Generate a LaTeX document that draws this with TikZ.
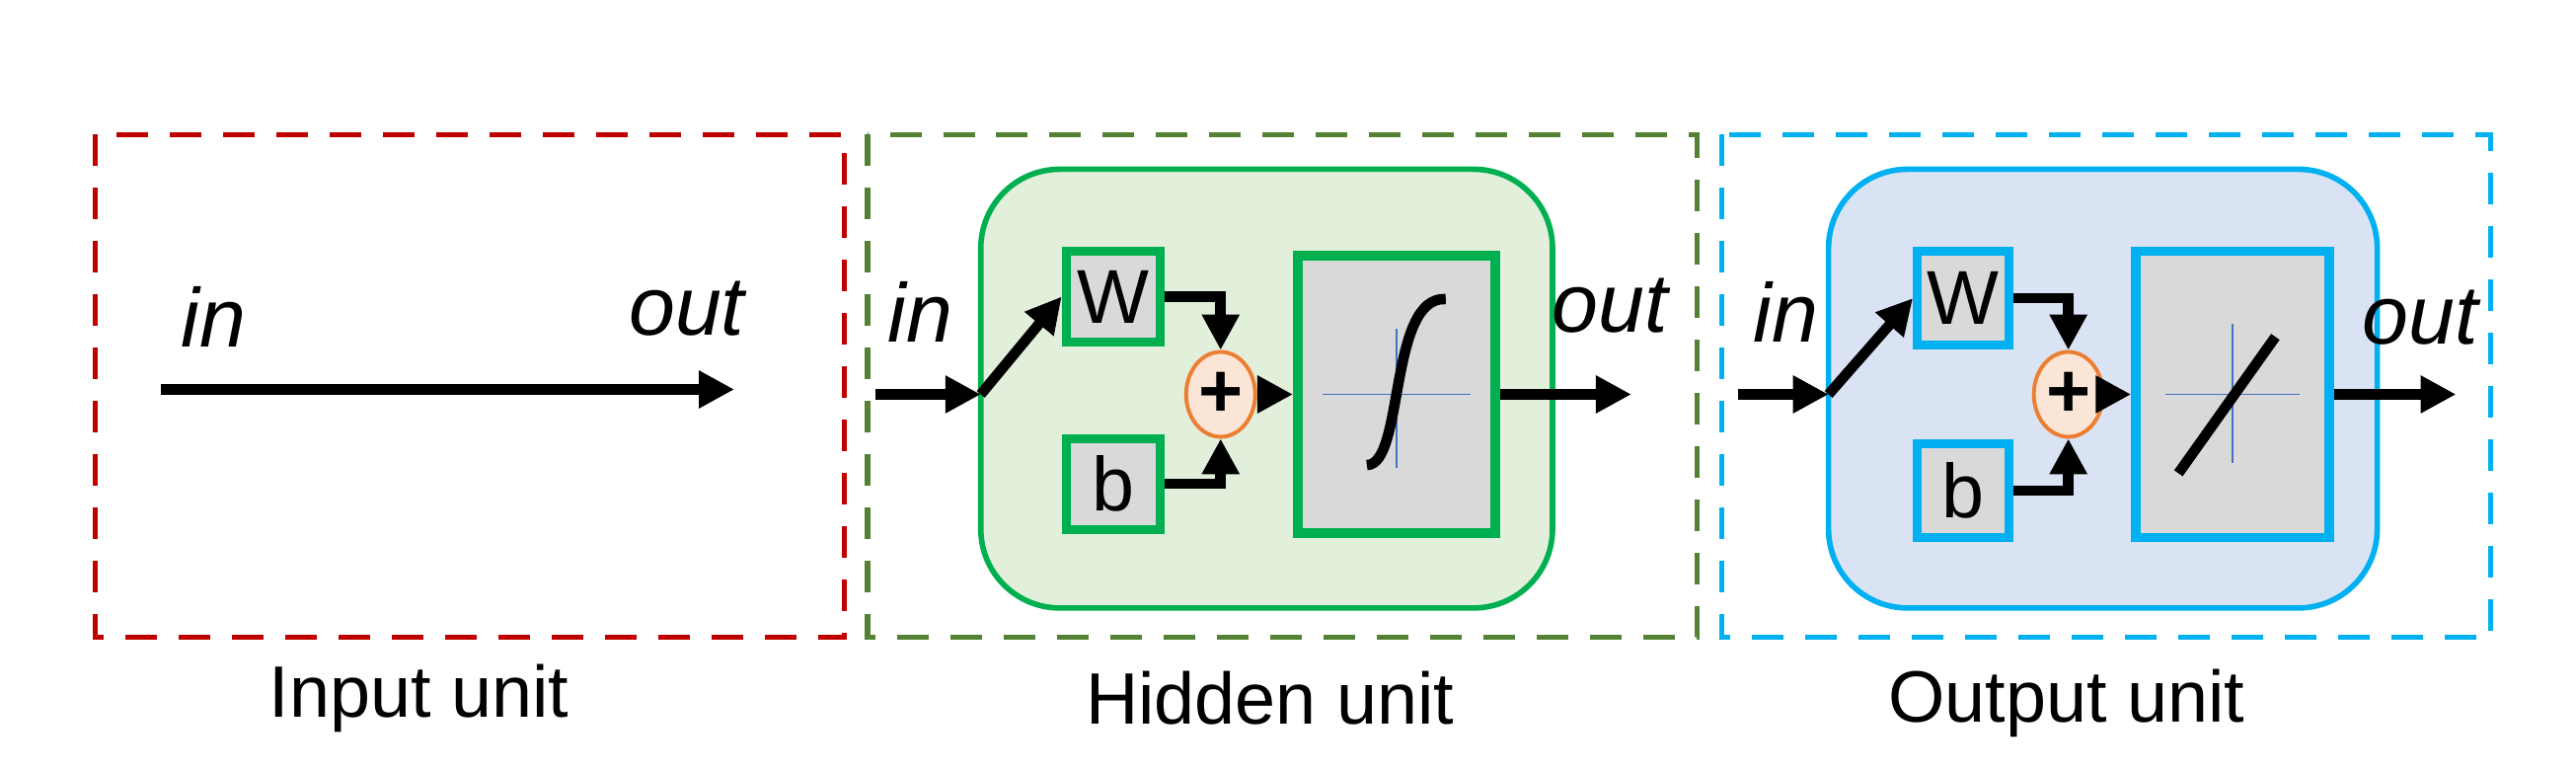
\documentclass[tikz,border=0pt]{standalone}
\usepackage{fontspec}
\setmainfont{Liberation Sans}
\usetikzlibrary{arrows.meta,shapes.geometric}
\definecolor{dred}{HTML}{C00000}
\definecolor{dgreen}{HTML}{548235}
\definecolor{dblue}{HTML}{00B0F0}
\definecolor{gbox}{HTML}{00B050}
\definecolor{gfill}{HTML}{E2EFDA}
\definecolor{bfill}{HTML}{DAE3F3}
\definecolor{gry}{HTML}{D9D9D9}
\definecolor{org}{HTML}{ED7D31}
\definecolor{orgf}{HTML}{FBE5D6}
\definecolor{axc}{HTML}{4472C4}
\tikzset{
 unit/.style={draw, dash pattern=on 3.2mm off 2.2mm, line width=1.5pt},
 cell/.style={draw, line width=1.6pt, rounded corners=8mm},
 par/.style={draw, line width=2.6pt, fill=gry, inner sep=0pt, font=\fontsize{22}{22}\selectfont},
 act/.style={draw, line width=2.8pt, fill=gry},
 sum/.style={draw=org, fill=orgf, line width=1.1pt, ellipse, minimum width=7mm, minimum height=8.6mm, inner sep=0pt, font=\fontsize{22}{22}\selectfont\bfseries},
 arr/.style={line width=3pt, -{Triangle[length=3.6mm,width=3.6mm]}},
 io/.style={font=\fontsize{24}{24}\selectfont\itshape},
 lab/.style={font=\fontsize{21}{21}\selectfont},
 ax/.style={axc, line width=0.5pt}
}
\begin{document}
\begin{tikzpicture}[x=0.1665mm,y=-0.1665mm]
\useasboundingbox (0,0) rectangle (1568,469);
% unit boxes
\draw[unit, dred] (58,82) rectangle (514,388);
\draw[unit, dgreen] (528,82) rectangle (1033,388);
\draw[unit, dblue] (1048,82) rectangle (1516,388);
\node[lab] (l1) at (255,425) {Input unit};
\node[lab] (l2) at (773,425) {Hidden unit};
\node[lab] (l3) at (1258,428) {Output unit};
% input unit
\coordinate (i1) at (98,237);
\coordinate (o1) at (447,237);
\draw[arr] (i1) -- (o1);
\node[io] (tin1) at (130,193) {in};
\node[io] (tout1) at (418,188) {out};
% hidden unit
\path[cell, draw=gbox, fill=gfill] (597,103) rectangle (945,370);
\node[par, draw=gbox, minimum width=9.5mm, minimum height=9.2mm] (W2) at (677.5,180.5) {W};
\node[par, draw=gbox, minimum width=9.5mm, minimum height=9.2mm] (b2) at (677.5,294.5) {b};
\node[act, draw=gbox, minimum width=20mm, minimum height=28.1mm] (a2) at (850,240) {};
\node[sum] (s2) at (743,240) {+};
\coordinate (in2) at (533,240);
\coordinate (j2) at (597,240);
\coordinate (out2) at (993,240);
\draw[arr] (in2) -- (j2);
\draw[arr] (j2) -- (W2.west);
\draw[arr] (W2.east) -| (s2.north);
\draw[arr] (b2.east) -| (s2.south);
\draw[arr] (s2.east) -- (a2.west);
\draw[arr] (a2.east) -- (out2);
\draw[ax] (805,240) -- (895,240);
\draw[ax] (850,200) -- (850,285);
\draw[line width=3pt] (832,283) .. controls (855,283) and (845,180) .. (880,182);
\node[io] (tin2) at (560,190) {in};
\node[io] (tout2) at (980,186) {out};
% output unit
\path[cell, draw=dblue, fill=bfill] (1113,103) rectangle (1447,370);
\node[par, draw=dblue, minimum width=9.3mm, minimum height=9.5mm] (W3) at (1195,181.5) {W};
\node[par, draw=dblue, minimum width=9.3mm, minimum height=9.5mm] (b3) at (1195,298.5) {b};
\node[act, draw=dblue, minimum width=19.6mm, minimum height=29mm] (a3) at (1359,240) {};
\node[sum] (s3) at (1259,240) {+};
\coordinate (in3) at (1058,240);
\coordinate (j3) at (1113,240);
\coordinate (out3) at (1495,240);
\draw[arr] (in3) -- (j3);
\draw[arr] (j3) -- (W3.west);
\draw[arr] (W3.east) -| (s3.north);
\draw[arr] (b3.east) -| (s3.south);
\draw[arr] (s3.east) -- (a3.west);
\draw[arr] (a3.east) -- (out3);
\draw[ax] (1318,240) -- (1400,240);
\draw[ax] (1359,197) -- (1359,282);
\draw[line width=3pt] (1326,288) -- (1385,205);
\node[io] (tin3) at (1087,190) {in};
\node[io] (tout3) at (1473,193) {out};
\end{tikzpicture}
\end{document}
